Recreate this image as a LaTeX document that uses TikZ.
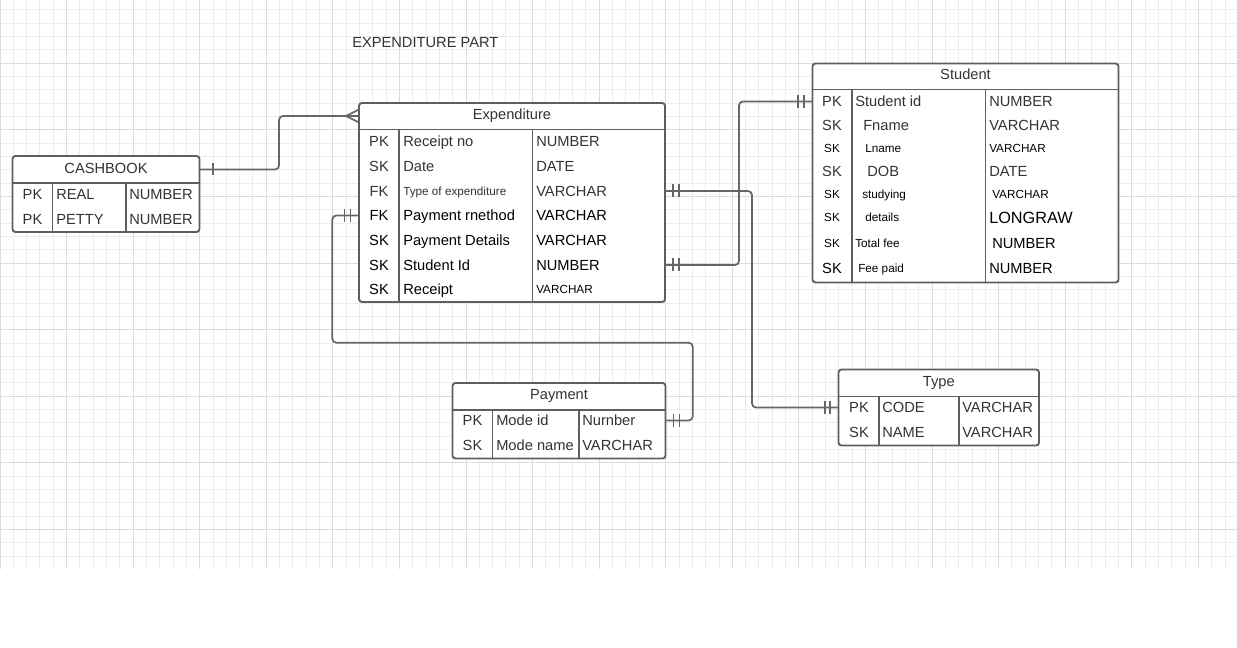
\documentclass[tikz,border=0pt]{standalone}
\usepackage{fontspec}
\setmainfont{Liberation Sans}
\usetikzlibrary{calc}
\definecolor{gridminor}{HTML}{EDEDED}
\definecolor{gridmajor}{HTML}{DCDCDC}
\definecolor{ink}{HTML}{333333}
\definecolor{edge}{HTML}{5E5E5E}
\definecolor{wire}{HTML}{666666}
\tikzset{
  tbl/.style={draw=edge, line width=1.4pt, rounded corners=2.2pt, fill=white, inner sep=0pt, outer sep=0pt, anchor=north west},
  div/.style={draw=edge, line width=1.4pt},
  conn/.style={draw=wire, line width=1.3pt, rounded corners=3pt},
  bar/.style={draw=wire, line width=1.3pt},
  ttl/.style={font=\fontsize{11}{13}\selectfont, text=ink, inner sep=0pt, text height=7.9pt, text depth=0pt},
  nt/.style={font=\fontsize{11}{13}\selectfont, text=ink, inner sep=0pt, text height=7.9pt, text depth=0pt, anchor=west},
  nk/.style={nt, anchor=center},
  st/.style={font=\fontsize{8.8}{10}\selectfont, text=black, inner sep=0pt, text height=6.3pt, text depth=0pt, anchor=west},
  sk/.style={st, anchor=center},
  lt/.style={font=\fontsize{12.2}{14}\selectfont, text=black, inner sep=0pt, text height=8.8pt, text depth=0pt, anchor=west},
  blk/.style={text=black},
}
\begin{document}
\begin{tikzpicture}[x=0.75pt, y=-0.75pt]
\useasboundingbox (0,0) rectangle (1237,648);
\fill[white] (0,0) rectangle (1237,648);
% grid
\foreach \i in {0,...,93} {\draw[gridminor, line width=0.75pt] ({\i*13.315},0) -- ({\i*13.315},568.7);}
\foreach \j in {0,...,41} {\draw[gridminor, line width=0.75pt] (0,{10+\j*13.32}) -- (1237,{10+\j*13.32});}
\foreach \i in {0,...,18} {\draw[gridmajor, line width=0.75pt] ({\i*66.575},0) -- ({\i*66.575},568.7);}
\foreach \j in {0,...,7} {\draw[gridmajor, line width=0.75pt] (0,{63.3+\j*66.6}) -- (1237,{63.3+\j*66.6});}

% title
\node[nt] (title) at (352,42) {EXPENDITURE PART};

% ---------- Expenditure ----------
\node[tbl, minimum width=229.5pt, minimum height=149.25pt] (exp) at (359,103) {};
\draw[div] ($(exp.north west)+(0,26.5)$) -- ($(exp.north east)+(0,26.5)$);
\draw[div] ($(exp.north west)+(40,26.5)$) -- ($(exp.south west)+(40,0)$);
\draw[div] ($(exp.north west)+(173.5,26.5)$) -- ($(exp.south west)+(173.5,0)$);
\node[ttl] (expT) at (512,114.5) {Expenditure};
\node[nk] (eK1) at (379,141.5) {PK};
\node[nt] (eN1) at (403,141.5) {Receipt no};
\node[nt] (eY1) at (536,141.5) {NUMBER};
\node[nk] (eK2) at (379,166) {SK};
\node[nt] (eN2) at (403,166) {Date};
\node[nt] (eY2) at (536,166) {DATE};
\node[nk] (eK3) at (379,191) {FK};
\node[st, text=ink] (eN3) at (403,191) {Type of expenditure};
\node[nt] (eY3) at (536,191) {VARCHAR};
\node[nk, blk] (eK4) at (379,215.5) {FK};
\node[nt, blk] (eN4) at (403,215.5) {Payment rnethod};
\node[nt, blk] (eY4) at (536,215.5) {VARCHAR};
\node[nk, blk] (eK5) at (379,240) {SK};
\node[nt, blk] (eN5) at (403,240) {Payment Details};
\node[nt, blk] (eY5) at (536,240) {VARCHAR};
\node[nk, blk] (eK6) at (379,265) {SK};
\node[nt, blk] (eN6) at (403,265) {Student Id};
\node[nt, blk] (eY6) at (536,265) {NUMBER};
\node[nk, blk] (eK7) at (379,289.5) {SK};
\node[nt, blk] (eN7) at (403,289.5) {Receipt};
\node[st] (eY7) at (536,289.5) {VARCHAR};

% ---------- Student ----------
\node[tbl, minimum width=229.5pt, minimum height=164.25pt] (stu) at (812.5,63.5) {};
\draw[div] ($(stu.north west)+(0,26)$) -- ($(stu.north east)+(0,26)$);
\draw[div] ($(stu.north west)+(39.5,26)$) -- ($(stu.south west)+(39.5,0)$);
\draw[div] ($(stu.north west)+(173,26)$) -- ($(stu.south west)+(173,0)$);
\node[ttl] (stuT) at (965.5,74.5) {Student};
\node[nk] (sK1) at (832,101.5) {PK};
\node[nt] (sN1) at (855,101.5) {Student id};
\node[nt] (sY1) at (989,101.5) {NUMBER};
\node[nk] (sK2) at (832,125) {SK};
\node[nt] (sN2) at (863,125) {Fname};
\node[nt] (sY2) at (989,125) {VARCHAR};
\node[sk] (sK3) at (832,148.5) {SK};
\node[st] (sN3) at (865,148.5) {Lname};
\node[st] (sY3) at (989,148.5) {VARCHAR};
\node[nk] (sK4) at (832,171) {SK};
\node[nt] (sN4) at (867,171) {DOB};
\node[nt] (sY4) at (989,171) {DATE};
\node[sk] (sK5) at (832,194.5) {SK};
\node[st] (sN5) at (862,194.5) {studying};
\node[st] (sY5) at (992,194.5) {VARCHAR};
\node[sk] (sK6) at (832,217.5) {SK};
\node[st] (sN6) at (865,217.5) {details};
\node[lt] (sY6) at (989,217.5) {LONGRAW};
\node[sk] (sK7) at (832,243.5) {SK};
\node[st] (sN7) at (855,243.5) {Total fee};
\node[nt, blk] (sY7) at (992,243.5) {NUMBER};
\node[nk, blk] (sK8) at (832,268.5) {SK};
\node[st] (sN8) at (858,268.5) {Fee paid};
\node[nt, blk] (sY8) at (989,268.5) {NUMBER};

% ---------- CASHBOOK ----------
\node[tbl, minimum width=140.25pt, minimum height=57pt] (cash) at (12.5,156) {};
\draw[div] ($(cash.north west)+(0,27)$) -- ($(cash.north east)+(0,27)$);
\draw[div] ($(cash.north west)+(40,27)$) -- ($(cash.south west)+(40,0)$);
\draw[div] ($(cash.north west)+(113.5,27)$) -- ($(cash.south west)+(113.5,0)$);
\node[ttl] (cashT) at (106,168) {CASHBOOK};
\node[nk] (cK1) at (32.5,194.5) {PK};
\node[nt] (cN1) at (56,194.5) {REAL};
\node[nt] (cY1) at (129,194.5) {NUMBER};
\node[nk] (cK2) at (32.5,219) {PK};
\node[nt] (cN2) at (56,219) {PETTY};
\node[nt] (cY2) at (129,219) {NUMBER};

% ---------- Payment ----------
\node[tbl, minimum width=159.75pt, minimum height=56.625pt] (pay) at (452.5,383) {};
\draw[div] ($(pay.north west)+(0,27)$) -- ($(pay.north east)+(0,27)$);
\draw[div] ($(pay.north west)+(40,27)$) -- ($(pay.south west)+(40,0)$);
\draw[div] ($(pay.north west)+(126.5,27)$) -- ($(pay.south west)+(126.5,0)$);
\node[ttl] (payT) at (559,394.5) {Payment};
\node[nk] (pK1) at (472.5,420.5) {PK};
\node[nt] (pN1) at (496,420.5) {Mode id};
\node[nt] (pY1) at (582,420.5) {Nurnber};
\node[nk] (pK2) at (472.5,445) {SK};
\node[nt] (pN2) at (496,445) {Mode name};
\node[nt] (pY2) at (582,445) {VARCHAR};

% ---------- Type ----------
\node[tbl, minimum width=150.375pt, minimum height=57pt] (typ) at (838.5,369.5) {};
\draw[div] ($(typ.north west)+(0,27)$) -- ($(typ.north east)+(0,27)$);
\draw[div] ($(typ.north west)+(40.5,27)$) -- ($(typ.south west)+(40.5,0)$);
\draw[div] ($(typ.north west)+(120.5,27)$) -- ($(typ.south west)+(120.5,0)$);
\node[ttl] (typT) at (938.8,381) {Type};
\node[nk] (tK1) at (859,407.5) {PK};
\node[nt] (tN1) at (882,407.5) {CODE};
\node[nt] (tY1) at (962,407.5) {VARCHAR};
\node[nk] (tK2) at (859,432) {SK};
\node[nt] (tN2) at (882,432) {NAME};
\node[nt] (tY2) at (962,432) {VARCHAR};

% ---------- connectors ----------
% CASHBOOK -> Expenditure (one to many)
\coordinate (c1a) at ($(cash.north east)+(0,13.5)$);
\coordinate (c1b) at ($(exp.north west)+(0,13)$);
\coordinate (b1) at ($(c1b)+(-80,0)$);
\draw[conn] (c1a) -| (b1) -- (c1b);
\draw[bar] ($(c1a)+(13.5,-6)$) -- ++(0,12);
\draw[bar] ($(c1b)+(-13,0)$) -- ++(13,-6.5);
\draw[bar] ($(c1b)+(-13,0)$) -- ++(13,6.5);

% Expenditure (Payment method) -> Payment
\coordinate (c2a) at (exp.west |- eN4);
\coordinate (c2b) at (pay.east |- pN1);
\coordinate (b2a) at (332.3,342.7);
\coordinate (b2b) at (692.7,420.5);
\draw[conn] (c2a) -| (b2a) -| (b2b) -- (c2b);
\draw[bar] ($(c2a)+(-8.5,-6.5)$) -- ++(0,13);
\draw[bar] ($(c2a)+(-14.5,-6.5)$) -- ++(0,13);
\draw[bar] ($(c2b)+(8,-6.5)$) -- ++(0,13);
\draw[bar] ($(c2b)+(14,-6.5)$) -- ++(0,13);

% Expenditure (Type of expenditure) -> Type
\coordinate (c3a) at (exp.east |- eN3);
\coordinate (c3b) at (typ.west |- tK1);
\coordinate (b3) at (752,407.5);
\draw[conn] (c3a) -| (b3) -- (c3b);
\draw[bar] ($(c3a)+(8,-6.5)$) -- ++(0,13);
\draw[bar] ($(c3a)+(14,-6.5)$) -- ++(0,13);
\draw[bar] ($(c3b)+(-8.5,-6.5)$) -- ++(0,13);
\draw[bar] ($(c3b)+(-13.5,-6.5)$) -- ++(0,13);

% Expenditure (Student Id) -> Student
\coordinate (c4a) at (exp.east |- eN6);
\coordinate (c4b) at (stu.west |- sK1);
\coordinate (b4) at (739,101.5);
\draw[conn] (c4a) -| (b4) -- (c4b);
\draw[bar] ($(c4a)+(8,-6.5)$) -- ++(0,13);
\draw[bar] ($(c4a)+(14,-6.5)$) -- ++(0,13);
\draw[bar] ($(c4b)+(-8.5,-6.5)$) -- ++(0,13);
\draw[bar] ($(c4b)+(-14.5,-6.5)$) -- ++(0,13);
\end{tikzpicture}
\end{document}
